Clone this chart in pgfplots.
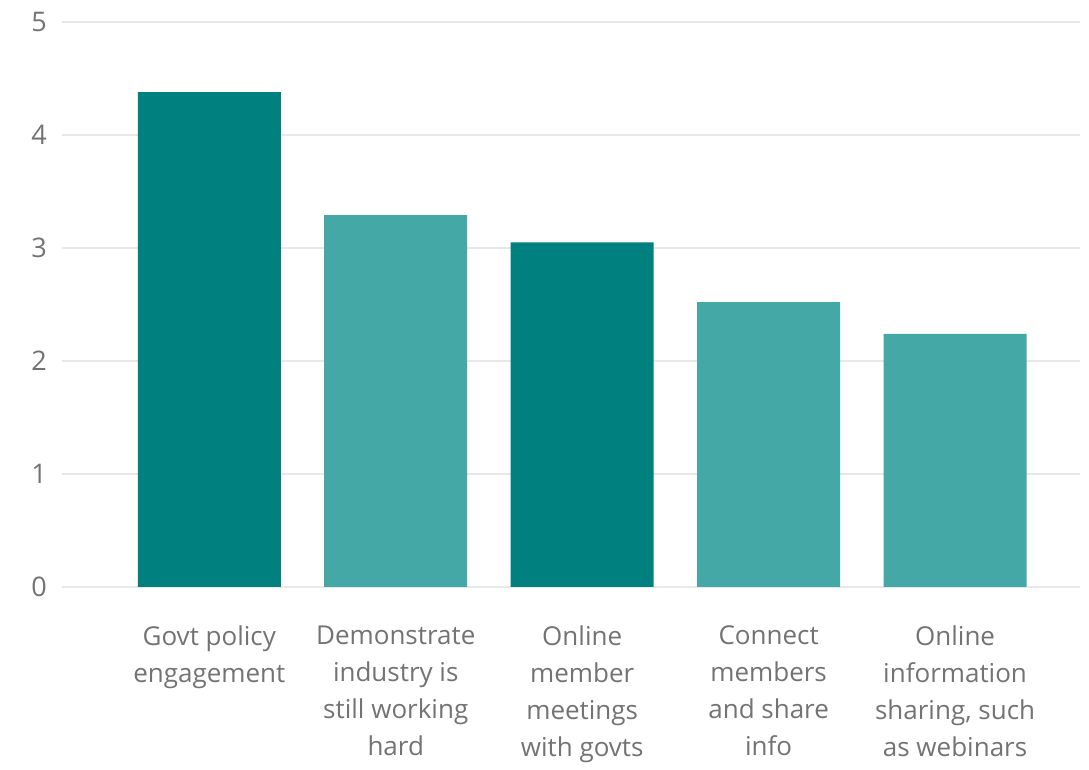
\documentclass[border=0pt]{standalone}
\usepackage{pgfplots}
\pgfplotsset{compat=1.18}
\usepackage{fontspec}
\setmainfont{Open Sans}
\definecolor{darkteal}{HTML}{008180}
\definecolor{lightteal}{HTML}{43A8A6}
\definecolor{txt}{HTML}{737373}
\definecolor{gridc}{HTML}{E8E8E8}
\begin{document}
\begin{tikzpicture}
\begin{axis}[
  name=ax,
  scale only axis,
  width=509pt, height=282.5pt,
  xmin=-0.79, xmax=4.67,
  ymin=0, ymax=5,
  axis line style={draw=none},
  ytick={0,1,2,3,4,5},
  xtick={0,1,2,3,4},
  xticklabels={{Govt policy\\engagement},{Demonstrate\\industry is\\still working\\hard},{Online\\member\\meetings\\with govts},{Connect\\members\\and share\\info},{Online\\information\\sharing, such\\as webinars}},
  x tick label style={align=center, font=\fontsize{13}{18.5}\selectfont, text=txt, anchor=north, yshift=-16pt},
  y tick label style={font=\fontsize{13.5}{15}\selectfont, text=txt, xshift=-4pt},
  /pgf/number format/assume math mode=true,
  ymajorgrids,
  grid style={gridc, line width=0.8pt},
  major tick length=0pt,
  tick style={draw=none},
]
\addplot[ybar, bar width=71.5pt, fill=darkteal, draw=none, bar shift=0pt] coordinates {(0,4.38) (2,3.05)};
\addplot[ybar, bar width=71.5pt, fill=lightteal, draw=none, bar shift=0pt] coordinates {(1,3.29) (3,2.52) (4,2.24)};
\end{axis}
\path[use as bounding box] ([xshift=-31pt,yshift=-87.5pt]ax.south west) rectangle ([xshift=4.5pt,yshift=11pt]ax.north east);
\end{tikzpicture}
\end{document}
